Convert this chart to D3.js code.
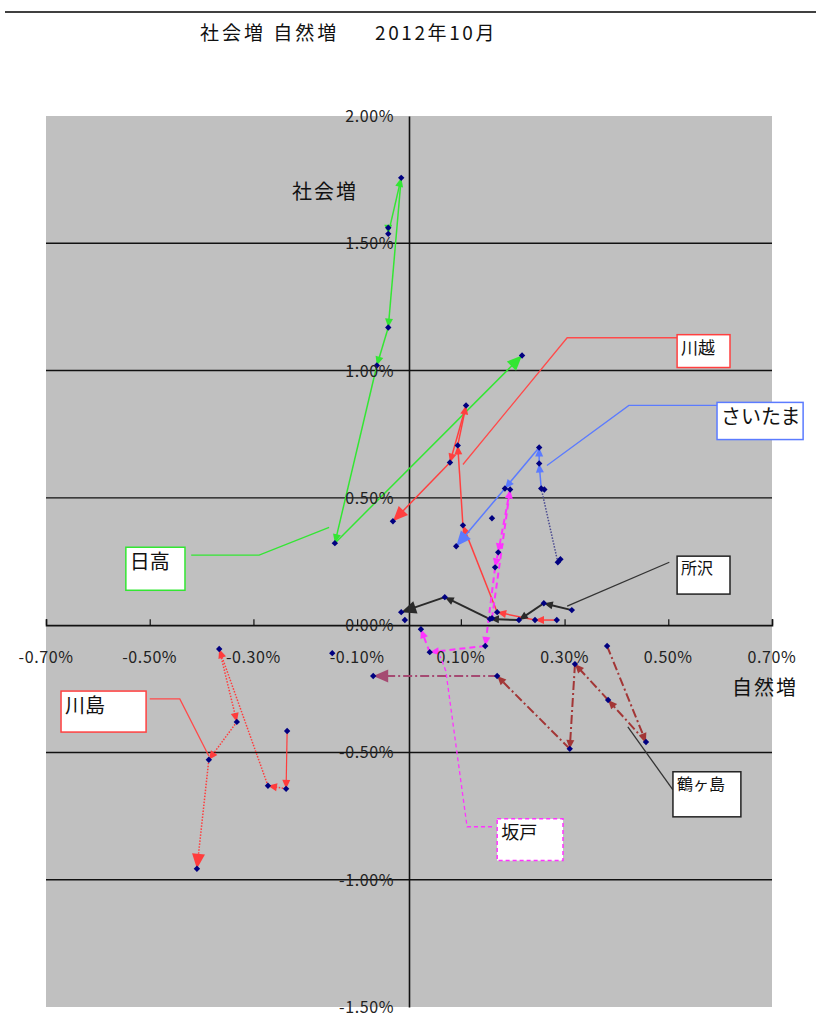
<!DOCTYPE html>
<html><head><meta charset="utf-8">
<script src="https://cdn.jsdelivr.net/npm/d3@7"></script>
<style>body{margin:0;background:#fff}</style>
</head><body>
<svg id="c" width="816" height="1020"></svg>
<script>
// ---- data (percent values) ----
const xTicks = [-0.7, -0.5, -0.3, -0.1, 0.1, 0.3, 0.5, 0.7];
const yTicks = [2.0, 1.5, 1.0, 0.5, 0.0, -0.5, -1.0, -1.5];
const gridValues = [1.5, 1.0, 0.5, -0.5, -1.0];
const titleParts = ["社会増 自然増", "2012年10月"];

const hidaka = [[-0.040,1.561],[-0.040,1.537],[-0.015,1.757],[-0.040,1.169],[-0.062,1.020],[-0.143,0.322],[0.218,1.059]];
const kawagoe = [[0.285,0.020],[0.243,0.020],[0.170,0.051],[0.104,0.392],[0.094,0.706],[0.110,0.863],[0.079,0.639],[-0.031,0.408]];
const saitama = [[0.287,0.247],[0.255,0.537],[0.251,0.635],[0.251,0.698],[0.185,0.537],[0.091,0.310]];
const tokorozawa = [[0.314,0.059],[0.260,0.086],[0.212,0.020],[0.156,0.024],[0.069,0.110],[-0.015,0.051]];
const sakado = [[0.160,0.027],[0.195,0.533],[0.172,0.286],[0.166,0.227],[0.147,-0.082],[0.040,-0.106],[0.023,-0.016]];
const kawashima = [[-0.235,-0.416],[-0.237,-0.643],[-0.272,-0.631],[-0.366,-0.094],[-0.332,-0.380],[-0.386,-0.529],[-0.409,-0.957]];
const tsurugashima = [[0.382,-0.082],[0.457,-0.459],[0.384,-0.294],[0.320,-0.153],[0.310,-0.486],[0.170,-0.200],[-0.069,-0.200]];
const loosePoints = [[-0.148,-0.110],[0.160,0.420],[0.261,0.533],[0.292,0.259],[-0.008,0.020]];

// label boxes: [x0,y0,x1,y1] in data units, leader polylines in data units
const labelNames = ["川越","さいたま","所沢","日高","川島","坂戸","鶴ヶ島"];
const labelBoxes = [
  [0.517,1.141,0.619,1.012],
  [0.594,0.875,0.760,0.729],
  [0.517,0.271,0.619,0.122],
  [-0.546,0.306,-0.432,0.137],
  [-0.671,-0.259,-0.507,-0.420],
  [0.170,-0.761,0.297,-0.925],
  [0.509,-0.576,0.640,-0.753]
];
const leaders = [
  [[0.517,1.129],[0.305,1.129],[0.104,0.631]],
  [[0.594,0.863],[0.424,0.863],[0.266,0.627]],
  [[0.502,0.247],[0.305,0.075]],
  [[-0.420,0.275],[-0.289,0.275],[-0.154,0.384]],
  [[-0.500,-0.290],[-0.442,-0.290],[-0.386,-0.514]],
  [[0.160,-0.792],[0.112,-0.792],[0.071,-0.180],[0.060,-0.122]],
  [[0.509,-0.647],[0.422,-0.400]]
];

// ---- styles ----
const seriesList = [
  {data: hidaka, color:"#33e633", width:1.5, dash:null, bigEnd:true},
  {data: kawagoe, color:"#ff4040", width:1.5, dash:null, bigEnd:true},
  {data: saitama, color:"#5b7bff", width:1.5, dash:null, bigEnd:true, segStyle:{0:{color:"#4a4a90", dash:"1.5,1.5", width:1.5, noArrow:true}}},
  {data: tokorozawa, color:"#2a2a2a", width:2, dash:null, bigEnd:true},
  {data: sakado, color:"#ff33ff", width:2, dash:"6,4", bigEnd:false},
  {data: kawashima, color:"#ff3c3c", width:1.5, dash:"1.5,1.5", bigEnd:true, segStyle:{0:{dash:null, width:1.2}}},
  {data: tsurugashima, color:"#a33636", width:2, dash:"9,3,2,3", bigEnd:true, segStyle:{5:{color:"#a54a72"}}}
];
const labelColors = ["#ff4040","#5b7bff","#222","#33e633","#ff4040","#ff33ff","#222"];
const labelDash = [null,null,null,null,null,"4,3",null];
const labelSizes = [17,20,16,20,20,18,16];
const leaderColors = ["#ff4a4a","#5b7bff","#333","#33e633","#ff4a4a","#ff33ff","#333"];

// ---- chart ----
const svg = d3.select("#c");
const pLeft=46, pRight=772, pTop=116, pBottom=1007;
const x = d3.scaleLinear().domain([-0.7,0.7]).range([pLeft,pRight]);
const y = d3.scaleLinear().domain([-1.5,2.0]).range([pBottom,pTop]);
const fmt = v => d3.format(".2f")(v).replace("\u2212","-") + "%";
const font = "'Noto Sans CJK JP','DejaVu Sans',sans-serif";

// top rule and title
svg.append("line").attr("x1",5).attr("x2",816).attr("y1",12).attr("y2",12).attr("stroke","#000").attr("stroke-width",1.5);
svg.append("text").attr("x",200).attr("y",40)
  .attr("font-family",font).attr("font-size",19).attr("letter-spacing",3).attr("fill","#111")
  .attr("xml:space","preserve").text(titleParts[0]);
svg.append("text").attr("x",375).attr("y",40)
  .attr("font-family",font).attr("font-size",19).attr("letter-spacing",2.6).attr("fill","#111")
  .text(titleParts[1]);

// plot background
svg.append("rect").attr("x",pLeft).attr("y",pTop).attr("width",pRight-pLeft).attr("height",pBottom-pTop).attr("fill","#c0c0c0");

// gridlines
svg.append("g").selectAll("line").data(gridValues).join("line")
  .attr("x1",pLeft).attr("x2",pRight).attr("y1",d=>y(d)).attr("y2",d=>y(d))
  .attr("stroke","#111").attr("stroke-width",1.4);

// x axis at 0
const xAxis = d3.axisBottom(x).tickValues(xTicks).tickSize(-6).tickPadding(0).tickFormat("");
const gx = svg.append("g").attr("transform",`translate(0,${y(0)})`).call(xAxis);
gx.select(".domain").attr("stroke","#111").attr("stroke-width",1.6);
gx.selectAll(".tick line").attr("stroke","#111").attr("stroke-width",1.2);

// y axis at 0
const yAxis = d3.axisLeft(y).tickValues(yTicks).tickSize(0).tickFormat("");
const gy = svg.append("g").attr("transform",`translate(${x(0)},0)`).call(yAxis);
gy.select(".domain").attr("stroke","#111").attr("stroke-width",1.6);

// series
const gS = svg.append("g");
function arrow(g, x1,y1,x2,y2,color,len,wid){
  const a = Math.atan2(y2-y1,x2-x1);
  const bx = x2 - len*Math.cos(a), by = y2 - len*Math.sin(a);
  const px = -Math.sin(a)*wid/2, py = Math.cos(a)*wid/2;
  g.append("path").attr("d",`M${x2},${y2}L${bx+px},${by+py}L${bx-px},${by-py}Z`).attr("fill",color);
}
seriesList.forEach(s=>{
  const pts = s.data;
  for(let i=0;i<pts.length-1;i++){
    const st = Object.assign({color:s.color,width:s.width,dash:s.dash}, (s.segStyle||{})[i]||{});
    const x1=x(pts[i][0]), y1=y(pts[i][1]), x2=x(pts[i+1][0]), y2=y(pts[i+1][1]);
    const big = s.bigEnd && i===pts.length-2;
    const len = big?15:9, wid = big?13:8;
    const a = Math.atan2(y2-y1,x2-x1);
    const ex = st.noArrow? x2 : x2 - (len-2)*Math.cos(a), ey = st.noArrow? y2 : y2 - (len-2)*Math.sin(a);
    gS.append("line").attr("x1",x1).attr("y1",y1).attr("x2",ex).attr("y2",ey)
      .attr("stroke",st.color).attr("stroke-width",st.width)
      .attr("stroke-dasharray",st.dash);
    if(!st.noArrow) arrow(gS,x1,y1,x2,y2,st.color,len,wid);
  }
});

// markers
const allPts = seriesList.flatMap(s=>s.data).concat(loosePoints);
svg.append("g").selectAll("path").data(allPts).join("path")
  .attr("transform",d=>`translate(${x(d[0])},${y(d[1])})`)
  .attr("d","M0,-3.2L3.2,0L0,3.2L-3.2,0Z").attr("fill","#000080");

// tick labels
svg.append("g").selectAll("text").data(xTicks).join("text")
  .attr("x",d=>x(d)).attr("y",y(0)+38).attr("text-anchor","middle")
  .attr("font-family",font).attr("font-size",16).attr("letter-spacing",0.6).attr("fill","#222")
  .text(fmt);
svg.append("g").selectAll("text").data(yTicks).join("text")
  .attr("x",x(0)-15).attr("y",d=>y(d)+6).attr("text-anchor","end")
  .attr("font-family",font).attr("font-size",16).attr("letter-spacing",0.6).attr("fill","#222")
  .text(fmt);

// axis titles
svg.append("text").attr("x",292).attr("y",199).attr("font-family",font).attr("font-size",20).attr("letter-spacing",2).attr("fill","#111").text("社会増");
svg.append("text").attr("x",732).attr("y",695).attr("font-family",font).attr("font-size",20).attr("letter-spacing",2).attr("fill","#111").text("自然増");

// leader lines
const line = d3.line().x(d=>x(d[0])).y(d=>y(d[1]));
svg.append("g").selectAll("path").data(leaders).join("path")
  .attr("d",line).attr("fill","none")
  .attr("stroke",(d,i)=>leaderColors[i]).attr("stroke-width",1.3)
  .attr("stroke-dasharray",(d,i)=>labelDash[i]);

// label boxes
const gL = svg.append("g");
labelBoxes.forEach((b,i)=>{
  const x0=x(b[0]), y0=y(b[1]), x1=x(b[2]), y1=y(b[3]);
  gL.append("rect").attr("x",x0).attr("y",y0).attr("width",x1-x0).attr("height",y1-y0)
    .attr("fill","#fff").attr("stroke",labelColors[i]).attr("stroke-width",1.5)
    .attr("stroke-dasharray",labelDash[i]);
  gL.append("text").attr("x",x0+4).attr("y",y0+labelSizes[i]+2).attr("font-family",font).attr("font-size",labelSizes[i])
    .attr("fill","#111").text(labelNames[i]);
});
</script>
</body></html>
